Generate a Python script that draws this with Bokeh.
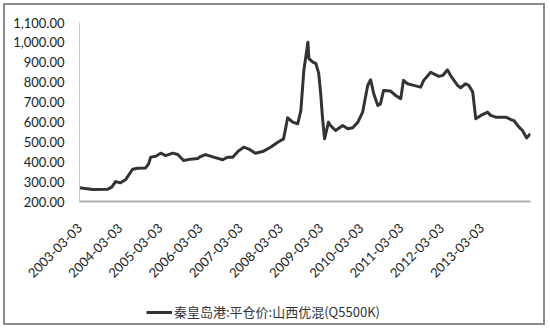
import math
import pandas as pd
from bokeh.plotting import figure
from bokeh.layouts import column
from bokeh.models import (ColumnDataSource, FixedTicker, NumeralTickFormatter,
                          DatetimeTickFormatter, Range1d, Legend, LegendItem)
from bokeh.embed import file_html
from bokeh.resources import INLINE

series_name = "秦皇岛港:平仓价:山西优混(Q5500K)"

dates = [
    "2003-03-03", "2003-06-30", "2003-11-15", "2003-12-21", "2004-01-24", "2004-03-09",
    "2004-04-24", "2004-06-27", "2004-08-12", "2004-10-24", "2004-11-21", "2004-12-09",
    "2005-01-24", "2005-03-09", "2005-04-24", "2005-06-27", "2005-08-12", "2005-10-03",
    "2005-12-06", "2006-02-09", "2006-03-06", "2006-04-21", "2006-07-03", "2006-09-24",
    "2006-11-09", "2006-12-24", "2007-02-09", "2007-04-03", "2007-05-15", "2007-07-18",
    "2007-09-30", "2007-12-03", "2008-02-06", "2008-03-30", "2008-05-06", "2008-06-21",
    "2008-08-06", "2008-09-03", "2008-09-30", "2008-11-06", "2008-11-15", "2008-12-21",
    "2009-01-18", "2009-02-12", "2009-03-02", "2009-03-18", "2009-04-06", "2009-05-12",
    "2009-05-30", "2009-07-15", "2009-09-18", "2009-11-03", "2009-12-18", "2010-02-03",
    "2010-03-18", "2010-05-03", "2010-05-30", "2010-06-27", "2010-08-03", "2010-08-27",
    "2010-09-24", "2010-11-27", "2011-01-12", "2011-02-27", "2011-03-24", "2011-04-30",
    "2011-06-24", "2011-08-27", "2011-09-24", "2011-11-27", "2011-12-24", "2012-02-09",
    "2012-03-15", "2012-04-27", "2012-05-24", "2012-07-27", "2012-08-24", "2012-10-09",
    "2012-11-06", "2012-12-12", "2013-01-09", "2013-02-24", "2013-04-27", "2013-05-24",
    "2013-07-09", "2013-10-09", "2013-11-24", "2013-12-21", "2014-02-06", "2014-03-09",
    "2014-04-15", "2014-05-21",
]
prices = [
    269, 260, 262, 272, 300, 294,
    309, 362, 367, 369, 391, 423,
    428, 443, 431, 443, 436, 406,
    413, 416, 426, 436, 423, 410,
    423, 423, 452, 473, 465, 443,
    453, 473, 498, 515, 621, 599,
    591, 658, 859, 1001, 918, 901,
    893, 844, 743, 624, 515, 599,
    582, 557, 582, 566, 571, 599,
    649, 783, 812, 742, 683, 691,
    758, 755, 733, 717, 809, 792,
    784, 775, 809, 850, 842, 829,
    834, 862, 834, 784, 772, 792,
    784, 750, 616, 633, 649, 633,
    624, 624, 612, 607, 574, 557,
    520, 541,
]
tick_labels = ["2003-03-03", "2004-03-03", "2005-03-03", "2006-03-03", "2007-03-03",
               "2008-03-03", "2009-03-03", "2010-03-03", "2011-03-03", "2012-03-03",
               "2013-03-03"]
y_ticks = [200, 300, 400, 500, 600, 700, 800, 900, 1000, 1100]

src = ColumnDataSource(dict(x=pd.to_datetime(dates), y=prices))

def ms(s):
    return pd.Timestamp(s).value / 1e6

line_style = dict(line_color="#333333", line_width=3, line_join="round")

p = figure(width=538, height=290, output_backend="svg", toolbar_location=None,
           x_axis_type="datetime",
           x_range=Range1d(ms(dates[0]), ms(dates[-1])),
           y_range=Range1d(200, 1100),
           min_border_left=74, min_border_right=13, min_border_top=17,
           min_border_bottom=94)

r = p.line("x", "y", source=src, **line_style)

p.grid.visible = False
p.outline_line_color = None
p.background_fill_color = "white"

font = "Lato"
p.yaxis.ticker = FixedTicker(ticks=y_ticks)
p.yaxis.formatter = NumeralTickFormatter(format="0,0.00")
p.yaxis.major_tick_line_color = None
p.yaxis.minor_tick_line_color = None
p.yaxis.major_tick_out = 0
p.yaxis.major_label_standoff = 15
p.yaxis.axis_line_color = "#c8c8c8"
p.yaxis.major_label_text_font = font
p.yaxis.major_label_text_font_size = "13px"
p.yaxis.major_label_text_color = "#222222"

p.xaxis.ticker = FixedTicker(ticks=[ms(t) for t in tick_labels])
p.xaxis.formatter = DatetimeTickFormatter(days="%Y-%m-%d", months="%Y-%m-%d",
                                          years="%Y-%m-%d")
p.xaxis.major_label_orientation = math.pi / 4
p.xaxis.major_tick_line_color = None
p.xaxis.minor_tick_line_color = None
p.xaxis.major_tick_out = 0
p.xaxis.major_label_standoff = 24
p.xaxis.axis_line_color = "#b0b0b0"
p.xaxis.axis_line_width = 2
p.xaxis.major_label_text_font = font
p.xaxis.major_label_text_font_size = "13px"
p.xaxis.major_label_text_color = "#222222"

# legend strip: same series drawn outside the strip's visible range, so only the key shows
lg = figure(width=538, height=28, output_backend="svg", toolbar_location=None,
            x_axis_type="datetime",
            x_range=Range1d(ms(dates[0]), ms(dates[-1])),
            y_range=Range1d(0, 1), min_border=0)
lg.axis.visible = False
lg.grid.visible = False
lg.outline_line_color = None
lr = lg.line("x", "y", source=src, **line_style)

legend = Legend(items=[LegendItem(label=series_name, renderers=[lr])],
                location=(67, 2), orientation="horizontal",
                border_line_color=None, background_fill_alpha=0,
                glyph_width=26, glyph_height=18, label_standoff=2, margin=0,
                padding=0, label_text_font="Noto Sans CJK SC",
                label_text_font_size="13px", label_text_color="#333333")
lg.add_layout(legend)

layout = column(p, lg, spacing=0, margin=(3, 0, 0, 3),
                styles={"border": "2px solid #8c8c8c"})

open("out.html", "w").write(file_html(layout, INLINE))
